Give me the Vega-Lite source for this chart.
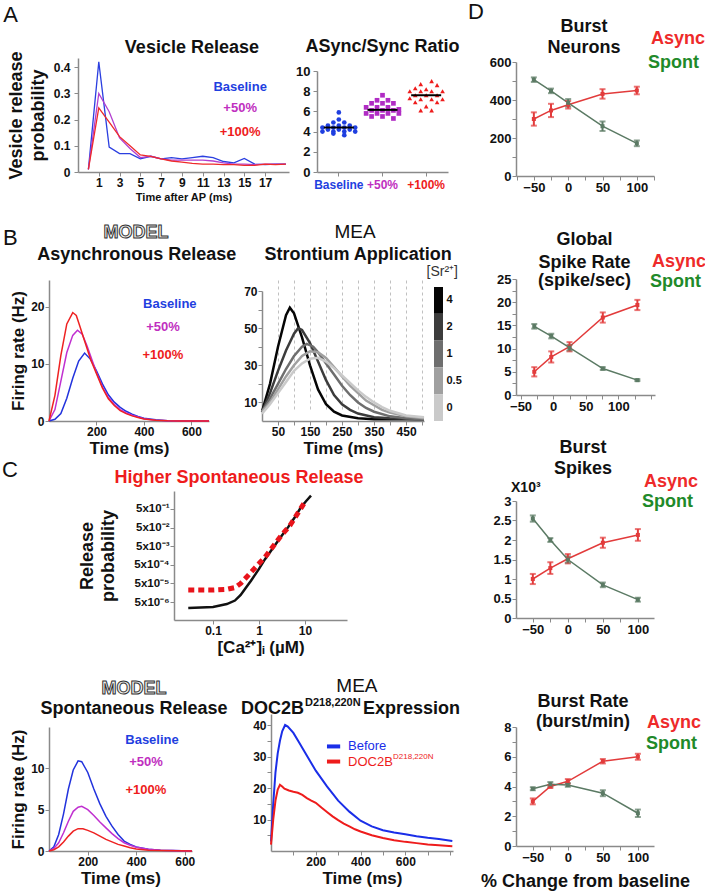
{
"$schema": "https://vega.github.io/schema/vega-lite/v6.json",
"autosize": {"type": "none"},
"padding": {"left": 49, "top": 58, "right": 656, "bottom": 836},
"background": "white",
"config": {
 "font": "Liberation Sans",
 "view": {"stroke": null},
 "axis": {"labelFontWeight": "bold", "labelFontSize": 12, "labelColor": "#111", "titleFontWeight": "bold", "titleFontSize": 17, "titleColor": "#111", "domainColor": "#8a8a8a", "tickColor": "#8a8a8a", "tickSize": 4, "domainWidth": 1.5, "grid": false, "labelPadding": 1, "titlePadding": 3, "labelFlush": false, "labelOverlap": false},
 "text": {"font": "Liberation Sans"}
},
"resolve": {"scale": {"color": "independent", "shape": "independent"}},
"datasets": {
 "a1": [
  {"t":0,"p":0.01,"s":"Baseline"},{"t":1,"p":0.42,"s":"Baseline"},{"t":2,"p":0.095,"s":"Baseline"},{"t":3,"p":0.07,"s":"Baseline"},{"t":4,"p":0.07,"s":"Baseline"},{"t":5,"p":0.05,"s":"Baseline"},{"t":6,"p":0.06,"s":"Baseline"},{"t":7,"p":0.05,"s":"Baseline"},{"t":8,"p":0.055,"s":"Baseline"},{"t":9,"p":0.05,"s":"Baseline"},{"t":10,"p":0.055,"s":"Baseline"},{"t":11,"p":0.06,"s":"Baseline"},{"t":12,"p":0.055,"s":"Baseline"},{"t":13,"p":0.04,"s":"Baseline"},{"t":14,"p":0.035,"s":"Baseline"},{"t":15,"p":0.052,"s":"Baseline"},{"t":16,"p":0.03,"s":"Baseline"},{"t":17,"p":0.028,"s":"Baseline"},{"t":18,"p":0.03,"s":"Baseline"},{"t":19,"p":0.03,"s":"Baseline"},
  {"t":0,"p":0.01,"s":"+50%"},{"t":1,"p":0.30,"s":"+50%"},{"t":2,"p":0.23,"s":"+50%"},{"t":3,"p":0.13,"s":"+50%"},{"t":4,"p":0.09,"s":"+50%"},{"t":5,"p":0.055,"s":"+50%"},{"t":6,"p":0.06,"s":"+50%"},{"t":7,"p":0.05,"s":"+50%"},{"t":8,"p":0.045,"s":"+50%"},{"t":9,"p":0.045,"s":"+50%"},{"t":10,"p":0.045,"s":"+50%"},{"t":11,"p":0.045,"s":"+50%"},{"t":12,"p":0.042,"s":"+50%"},{"t":13,"p":0.035,"s":"+50%"},{"t":14,"p":0.03,"s":"+50%"},{"t":15,"p":0.03,"s":"+50%"},{"t":16,"p":0.028,"s":"+50%"},{"t":17,"p":0.03,"s":"+50%"},{"t":18,"p":0.03,"s":"+50%"},{"t":19,"p":0.03,"s":"+50%"},
  {"t":0,"p":0.01,"s":"+100%"},{"t":1,"p":0.245,"s":"+100%"},{"t":2,"p":0.19,"s":"+100%"},{"t":3,"p":0.135,"s":"+100%"},{"t":4,"p":0.10,"s":"+100%"},{"t":5,"p":0.065,"s":"+100%"},{"t":6,"p":0.06,"s":"+100%"},{"t":7,"p":0.05,"s":"+100%"},{"t":8,"p":0.042,"s":"+100%"},{"t":9,"p":0.038,"s":"+100%"},{"t":10,"p":0.033,"s":"+100%"},{"t":11,"p":0.03,"s":"+100%"},{"t":12,"p":0.03,"s":"+100%"},{"t":13,"p":0.028,"s":"+100%"},{"t":14,"p":0.028,"s":"+100%"},{"t":15,"p":0.025,"s":"+100%"},{"t":16,"p":0.025,"s":"+100%"},{"t":17,"p":0.03,"s":"+100%"},{"t":18,"p":0.028,"s":"+100%"},{"t":19,"p":0.03,"s":"+100%"}
 ],
 "a2": [
  {"g":"Baseline","v":5.9,"k":0},{"g":"Baseline","v":5.2,"k":0},{"g":"Baseline","v":4.9,"k":-1},{"g":"Baseline","v":4.9,"k":1},{"g":"Baseline","v":4.6,"k":-2},{"g":"Baseline","v":4.6,"k":0},{"g":"Baseline","v":4.6,"k":2},{"g":"Baseline","v":4.4,"k":-3},{"g":"Baseline","v":4.4,"k":-1},{"g":"Baseline","v":4.4,"k":1},{"g":"Baseline","v":4.4,"k":3},{"g":"Baseline","v":4.2,"k":-2},{"g":"Baseline","v":4.2,"k":0},{"g":"Baseline","v":4.2,"k":2},{"g":"Baseline","v":4.0,"k":-3},{"g":"Baseline","v":4.0,"k":-1},{"g":"Baseline","v":4.0,"k":1},{"g":"Baseline","v":4.0,"k":3},{"g":"Baseline","v":3.8,"k":-1},{"g":"Baseline","v":3.65,"k":1},
  {"g":"+50%","v":7.6,"k":0},{"g":"+50%","v":7.1,"k":-1},{"g":"+50%","v":7.1,"k":1},{"g":"+50%","v":6.8,"k":-2},{"g":"+50%","v":6.8,"k":0},{"g":"+50%","v":6.8,"k":2},{"g":"+50%","v":6.4,"k":-3},{"g":"+50%","v":6.4,"k":-1},{"g":"+50%","v":6.4,"k":1},{"g":"+50%","v":6.2,"k":3},{"g":"+50%","v":6.1,"k":-2},{"g":"+50%","v":6.1,"k":0},{"g":"+50%","v":6.1,"k":2},{"g":"+50%","v":5.8,"k":-3},{"g":"+50%","v":5.8,"k":-1},{"g":"+50%","v":5.8,"k":1},{"g":"+50%","v":5.8,"k":3},{"g":"+50%","v":5.5,"k":-2},{"g":"+50%","v":5.5,"k":0},{"g":"+50%","v":5.3,"k":2},
  {"g":"+100%","v":9.0,"k":1},{"g":"+100%","v":8.7,"k":-1},{"g":"+100%","v":8.6,"k":2},{"g":"+100%","v":8.3,"k":-2},{"g":"+100%","v":8.2,"k":0},{"g":"+100%","v":8.0,"k":-3},{"g":"+100%","v":8.0,"k":-1},{"g":"+100%","v":8.0,"k":1},{"g":"+100%","v":8.0,"k":3},{"g":"+100%","v":7.6,"k":-2},{"g":"+100%","v":7.6,"k":0},{"g":"+100%","v":7.6,"k":2},{"g":"+100%","v":7.3,"k":-3},{"g":"+100%","v":7.2,"k":-1},{"g":"+100%","v":7.2,"k":1},{"g":"+100%","v":7.2,"k":3},{"g":"+100%","v":6.9,"k":-2},{"g":"+100%","v":6.9,"k":2},{"g":"+100%","v":6.5,"k":0},{"g":"+100%","v":6.1,"k":-1},{"g":"+100%","v":6.1,"k":1}
 ],
 "b1": [
  {"t":0,"v":0,"s":"Baseline"},{"t":25,"v":0.3,"s":"Baseline"},{"t":50,"v":1.3,"s":"Baseline"},{"t":75,"v":4,"s":"Baseline"},{"t":100,"v":7.5,"s":"Baseline"},{"t":125,"v":10.5,"s":"Baseline"},{"t":150,"v":11.9,"s":"Baseline"},{"t":175,"v":10.8,"s":"Baseline"},{"t":200,"v":8.8,"s":"Baseline"},{"t":225,"v":6.5,"s":"Baseline"},{"t":250,"v":4.6,"s":"Baseline"},{"t":275,"v":3.3,"s":"Baseline"},{"t":300,"v":2.4,"s":"Baseline"},{"t":325,"v":1.7,"s":"Baseline"},{"t":350,"v":1.2,"s":"Baseline"},{"t":375,"v":0.8,"s":"Baseline"},{"t":400,"v":0.5,"s":"Baseline"},{"t":450,"v":0.2,"s":"Baseline"},{"t":500,"v":0.05,"s":"Baseline"},{"t":550,"v":0,"s":"Baseline"},{"t":674,"v":0,"s":"Baseline"},
  {"t":0,"v":0,"s":"+50%"},{"t":25,"v":2,"s":"+50%"},{"t":50,"v":7,"s":"+50%"},{"t":75,"v":12,"s":"+50%"},{"t":100,"v":15,"s":"+50%"},{"t":120,"v":15.9,"s":"+50%"},{"t":140,"v":15.2,"s":"+50%"},{"t":160,"v":13.2,"s":"+50%"},{"t":180,"v":10.8,"s":"+50%"},{"t":200,"v":8.5,"s":"+50%"},{"t":225,"v":6,"s":"+50%"},{"t":250,"v":4.1,"s":"+50%"},{"t":275,"v":2.9,"s":"+50%"},{"t":300,"v":2.0,"s":"+50%"},{"t":325,"v":1.4,"s":"+50%"},{"t":350,"v":1.0,"s":"+50%"},{"t":375,"v":0.7,"s":"+50%"},{"t":400,"v":0.4,"s":"+50%"},{"t":450,"v":0.15,"s":"+50%"},{"t":500,"v":0.03,"s":"+50%"},{"t":550,"v":0,"s":"+50%"},{"t":674,"v":0,"s":"+50%"},
  {"t":0,"v":0,"s":"+100%"},{"t":25,"v":4.5,"s":"+100%"},{"t":50,"v":11.5,"s":"+100%"},{"t":75,"v":17,"s":"+100%"},{"t":100,"v":19,"s":"+100%"},{"t":115,"v":18.5,"s":"+100%"},{"t":130,"v":16.6,"s":"+100%"},{"t":150,"v":14,"s":"+100%"},{"t":175,"v":10.8,"s":"+100%"},{"t":200,"v":8.3,"s":"+100%"},{"t":225,"v":5.8,"s":"+100%"},{"t":250,"v":3.9,"s":"+100%"},{"t":275,"v":2.7,"s":"+100%"},{"t":300,"v":1.8,"s":"+100%"},{"t":325,"v":1.3,"s":"+100%"},{"t":350,"v":0.9,"s":"+100%"},{"t":375,"v":0.6,"s":"+100%"},{"t":400,"v":0.35,"s":"+100%"},{"t":450,"v":0.12,"s":"+100%"},{"t":500,"v":0.03,"s":"+100%"},{"t":550,"v":0,"s":"+100%"},{"t":674,"v":0,"s":"+100%"}
 ],
 "b2": [
  {"t":0,"v":5,"c":"4"},{"t":25,"v":20,"c":"4"},{"t":50,"v":40,"c":"4"},{"t":75,"v":57,"c":"4"},{"t":87,"v":61,"c":"4"},{"t":100,"v":58,"c":"4"},{"t":125,"v":45,"c":"4"},{"t":150,"v":30,"c":"4"},{"t":175,"v":17,"c":"4"},{"t":200,"v":9,"c":"4"},{"t":225,"v":5,"c":"4"},{"t":250,"v":3,"c":"4"},{"t":300,"v":1.5,"c":"4"},{"t":350,"v":1,"c":"4"},{"t":400,"v":1,"c":"4"},{"t":506,"v":1,"c":"4"},
  {"t":0,"v":5,"c":"2"},{"t":25,"v":15,"c":"2"},{"t":50,"v":27,"c":"2"},{"t":75,"v":38,"c":"2"},{"t":100,"v":47,"c":"2"},{"t":113,"v":50,"c":"2"},{"t":125,"v":49,"c":"2"},{"t":150,"v":42,"c":"2"},{"t":175,"v":32,"c":"2"},{"t":200,"v":22,"c":"2"},{"t":225,"v":14,"c":"2"},{"t":250,"v":9,"c":"2"},{"t":275,"v":6,"c":"2"},{"t":300,"v":4,"c":"2"},{"t":350,"v":2,"c":"2"},{"t":400,"v":1.5,"c":"2"},{"t":506,"v":1,"c":"2"},
  {"t":0,"v":5,"c":"1"},{"t":25,"v":12,"c":"1"},{"t":50,"v":20,"c":"1"},{"t":75,"v":28,"c":"1"},{"t":100,"v":35,"c":"1"},{"t":125,"v":40,"c":"1"},{"t":140,"v":41.5,"c":"1"},{"t":160,"v":40,"c":"1"},{"t":175,"v":37,"c":"1"},{"t":200,"v":31,"c":"1"},{"t":225,"v":25,"c":"1"},{"t":250,"v":19,"c":"1"},{"t":275,"v":14,"c":"1"},{"t":300,"v":10,"c":"1"},{"t":325,"v":7,"c":"1"},{"t":350,"v":5,"c":"1"},{"t":400,"v":2.5,"c":"1"},{"t":450,"v":1.5,"c":"1"},{"t":506,"v":1,"c":"1"},
  {"t":0,"v":5,"c":"0.5"},{"t":25,"v":10,"c":"0.5"},{"t":50,"v":17,"c":"0.5"},{"t":75,"v":24,"c":"0.5"},{"t":100,"v":30,"c":"0.5"},{"t":125,"v":35,"c":"0.5"},{"t":150,"v":37.5,"c":"0.5"},{"t":175,"v":37,"c":"0.5"},{"t":200,"v":34,"c":"0.5"},{"t":225,"v":29,"c":"0.5"},{"t":250,"v":24,"c":"0.5"},{"t":275,"v":19,"c":"0.5"},{"t":300,"v":15,"c":"0.5"},{"t":325,"v":11,"c":"0.5"},{"t":350,"v":8.5,"c":"0.5"},{"t":375,"v":6,"c":"0.5"},{"t":400,"v":4.5,"c":"0.5"},{"t":450,"v":2.5,"c":"0.5"},{"t":506,"v":1.5,"c":"0.5"},
  {"t":0,"v":4,"c":"0"},{"t":25,"v":9,"c":"0"},{"t":50,"v":15,"c":"0"},{"t":75,"v":21,"c":"0"},{"t":100,"v":27,"c":"0"},{"t":125,"v":31,"c":"0"},{"t":150,"v":33.5,"c":"0"},{"t":175,"v":34,"c":"0"},{"t":200,"v":32,"c":"0"},{"t":225,"v":28.5,"c":"0"},{"t":250,"v":24.5,"c":"0"},{"t":275,"v":20.5,"c":"0"},{"t":300,"v":16.5,"c":"0"},{"t":325,"v":13,"c":"0"},{"t":350,"v":10,"c":"0"},{"t":375,"v":7.5,"c":"0"},{"t":400,"v":5.5,"c":"0"},{"t":450,"v":3,"c":"0"},{"t":506,"v":2,"c":"0"}
 ],
 "cb": [{"c":"4"},{"c":"2"},{"c":"1"},{"c":"0.5"},{"c":"0"}],
 "ctn": [
  {"c":0.029,"p":2.4e-6},{"c":0.1,"p":2.7e-6},{"c":0.2,"p":3.9e-6},{"c":0.3,"p":6e-6},{"c":0.4,"p":1.2e-5},{"c":0.5,"p":2.6e-5},{"c":0.67,"p":7e-5},{"c":1.0,"p":3e-4},{"c":1.35,"p":1e-3},{"c":2.2,"p":5.5e-3},{"c":3.0,"p":1.6e-2},{"c":4.3,"p":5.3e-2},{"c":6,"p":0.18},{"c":8.1,"p":0.6},{"c":10.5,"p":1.3},{"c":13.5,"p":2.6}
 ],
 "cth": [
  {"c":0.029,"p":2.2e-5},{"c":0.1,"p":2.2e-5},{"c":0.2,"p":2.4e-5},{"c":0.3,"p":3e-5},{"c":0.4,"p":5e-5},{"c":0.52,"p":1e-4},{"c":0.8,"p":3.2e-4},{"c":1.35,"p":1.3e-3},{"c":2.2,"p":6.5e-3},{"c":3,"p":1.8e-2},{"c":4.7,"p":6.5e-2},{"c":7,"p":0.3},{"c":9.5,"p":1.0}
 ],
 "c1": [
  {"t":40,"v":0,"s":"Baseline"},{"t":60,"v":0.5,"s":"Baseline"},{"t":80,"v":2,"s":"Baseline"},{"t":100,"v":4.5,"s":"Baseline"},{"t":120,"v":7.5,"s":"Baseline"},{"t":140,"v":9.8,"s":"Baseline"},{"t":160,"v":10.9,"s":"Baseline"},{"t":175,"v":10.8,"s":"Baseline"},{"t":200,"v":9.5,"s":"Baseline"},{"t":225,"v":7.5,"s":"Baseline"},{"t":250,"v":5.7,"s":"Baseline"},{"t":275,"v":4.2,"s":"Baseline"},{"t":300,"v":3.0,"s":"Baseline"},{"t":325,"v":2.0,"s":"Baseline"},{"t":350,"v":1.2,"s":"Baseline"},{"t":375,"v":0.8,"s":"Baseline"},{"t":400,"v":0.5,"s":"Baseline"},{"t":450,"v":0.2,"s":"Baseline"},{"t":500,"v":0.1,"s":"Baseline"},{"t":550,"v":0.05,"s":"Baseline"},{"t":630,"v":0,"s":"Baseline"},
  {"t":40,"v":0,"s":"+50%"},{"t":60,"v":0.3,"s":"+50%"},{"t":80,"v":1,"s":"+50%"},{"t":100,"v":2.2,"s":"+50%"},{"t":120,"v":3.6,"s":"+50%"},{"t":140,"v":4.8,"s":"+50%"},{"t":160,"v":5.3,"s":"+50%"},{"t":175,"v":5.4,"s":"+50%"},{"t":200,"v":5,"s":"+50%"},{"t":225,"v":4.3,"s":"+50%"},{"t":250,"v":3.5,"s":"+50%"},{"t":275,"v":2.8,"s":"+50%"},{"t":300,"v":2.1,"s":"+50%"},{"t":325,"v":1.5,"s":"+50%"},{"t":350,"v":1,"s":"+50%"},{"t":375,"v":0.7,"s":"+50%"},{"t":400,"v":0.45,"s":"+50%"},{"t":450,"v":0.2,"s":"+50%"},{"t":500,"v":0.08,"s":"+50%"},{"t":630,"v":0,"s":"+50%"},
  {"t":40,"v":0,"s":"+100%"},{"t":60,"v":0.15,"s":"+100%"},{"t":80,"v":0.5,"s":"+100%"},{"t":100,"v":1.1,"s":"+100%"},{"t":120,"v":1.8,"s":"+100%"},{"t":140,"v":2.4,"s":"+100%"},{"t":160,"v":2.7,"s":"+100%"},{"t":180,"v":2.7,"s":"+100%"},{"t":200,"v":2.5,"s":"+100%"},{"t":225,"v":2.2,"s":"+100%"},{"t":250,"v":1.8,"s":"+100%"},{"t":275,"v":1.4,"s":"+100%"},{"t":300,"v":1.1,"s":"+100%"},{"t":325,"v":0.8,"s":"+100%"},{"t":350,"v":0.6,"s":"+100%"},{"t":375,"v":0.4,"s":"+100%"},{"t":400,"v":0.25,"s":"+100%"},{"t":450,"v":0.1,"s":"+100%"},{"t":500,"v":0.05,"s":"+100%"},{"t":630,"v":0,"s":"+100%"}
 ],
 "c2": [
  {"t":0,"v":3,"s":"Before"},{"t":10,"v":15,"s":"Before"},{"t":20,"v":25,"s":"Before"},{"t":30,"v":31,"s":"Before"},{"t":40,"v":35,"s":"Before"},{"t":50,"v":38,"s":"Before"},{"t":63,"v":40,"s":"Before"},{"t":75,"v":39.5,"s":"Before"},{"t":100,"v":37.5,"s":"Before"},{"t":125,"v":34.5,"s":"Before"},{"t":150,"v":31.5,"s":"Before"},{"t":175,"v":28.5,"s":"Before"},{"t":200,"v":25.5,"s":"Before"},{"t":250,"v":20.5,"s":"Before"},{"t":300,"v":16,"s":"Before"},{"t":350,"v":12.5,"s":"Before"},{"t":400,"v":9.6,"s":"Before"},{"t":450,"v":7.8,"s":"Before"},{"t":500,"v":6.6,"s":"Before"},{"t":550,"v":5.9,"s":"Before"},{"t":600,"v":5.3,"s":"Before"},{"t":650,"v":4.7,"s":"Before"},{"t":700,"v":4.2,"s":"Before"},{"t":750,"v":3.8,"s":"Before"},{"t":810,"v":3.2,"s":"Before"},
  {"t":0,"v":2,"s":"DOC2B"},{"t":10,"v":10,"s":"DOC2B"},{"t":20,"v":16,"s":"DOC2B"},{"t":30,"v":19.5,"s":"DOC2B"},{"t":40,"v":21,"s":"DOC2B"},{"t":50,"v":20.5,"s":"DOC2B"},{"t":60,"v":19.8,"s":"DOC2B"},{"t":80,"v":19.2,"s":"DOC2B"},{"t":100,"v":18.8,"s":"DOC2B"},{"t":120,"v":18.5,"s":"DOC2B"},{"t":140,"v":17.8,"s":"DOC2B"},{"t":160,"v":16.8,"s":"DOC2B"},{"t":180,"v":16,"s":"DOC2B"},{"t":200,"v":15.3,"s":"DOC2B"},{"t":225,"v":13.8,"s":"DOC2B"},{"t":250,"v":12.4,"s":"DOC2B"},{"t":275,"v":11,"s":"DOC2B"},{"t":300,"v":9.8,"s":"DOC2B"},{"t":325,"v":8.7,"s":"DOC2B"},{"t":350,"v":7.8,"s":"DOC2B"},{"t":375,"v":6.9,"s":"DOC2B"},{"t":400,"v":6.2,"s":"DOC2B"},{"t":450,"v":5,"s":"DOC2B"},{"t":500,"v":4.1,"s":"DOC2B"},{"t":550,"v":3.4,"s":"DOC2B"},{"t":600,"v":2.9,"s":"DOC2B"},{"t":650,"v":2.5,"s":"DOC2B"},{"t":700,"v":2.1,"s":"DOC2B"},{"t":750,"v":1.8,"s":"DOC2B"},{"t":810,"v":1.5,"s":"DOC2B"}
 ],
 "d1": [
  {"x":-50,"m":300,"e":35,"s":"Async"},{"x":-25,"m":345,"e":35,"s":"Async"},{"x":0,"m":375,"e":20,"s":"Async"},{"x":50,"m":432,"e":25,"s":"Async"},{"x":100,"m":450,"e":20,"s":"Async"},
  {"x":-50,"m":507,"e":12,"s":"Spont"},{"x":-25,"m":448,"e":12,"s":"Spont"},{"x":0,"m":385,"e":20,"s":"Spont"},{"x":50,"m":262,"e":25,"s":"Spont"},{"x":100,"m":172,"e":15,"s":"Spont"}
 ],
 "d2": [
  {"x":-29,"m":5.0,"e":1.0,"s":"Async"},{"x":-3,"m":8.2,"e":1.2,"s":"Async"},{"x":25,"m":10.4,"e":1.0,"s":"Async"},{"x":76,"m":16.7,"e":1.1,"s":"Async"},{"x":129,"m":19.4,"e":1.1,"s":"Async"},
  {"x":-29,"m":14.8,"e":0.5,"s":"Spont"},{"x":-3,"m":12.7,"e":0.5,"s":"Spont"},{"x":25,"m":10.2,"e":0.6,"s":"Spont"},{"x":76,"m":5.7,"e":0.3,"s":"Spont"},{"x":129,"m":3.2,"e":0.2,"s":"Spont"}
 ],
 "d3": [
  {"x":-50,"m":1.0,"e":0.13,"s":"Async"},{"x":-25,"m":1.28,"e":0.15,"s":"Async"},{"x":0,"m":1.52,"e":0.12,"s":"Async"},{"x":50,"m":1.93,"e":0.13,"s":"Async"},{"x":100,"m":2.13,"e":0.15,"s":"Async"},
  {"x":-50,"m":2.55,"e":0.08,"s":"Spont"},{"x":-25,"m":2.0,"e":0.05,"s":"Spont"},{"x":0,"m":1.5,"e":0.08,"s":"Spont"},{"x":50,"m":0.85,"e":0.06,"s":"Spont"},{"x":100,"m":0.47,"e":0.05,"s":"Spont"}
 ],
 "d4": [
  {"x":-50,"m":3.0,"e":0.2,"s":"Async"},{"x":-25,"m":4.0,"e":0.1,"s":"Async"},{"x":0,"m":4.35,"e":0.15,"s":"Async"},{"x":50,"m":5.7,"e":0.15,"s":"Async"},{"x":100,"m":6.0,"e":0.2,"s":"Async"},
  {"x":-50,"m":3.85,"e":0.1,"s":"Spont"},{"x":-25,"m":4.15,"e":0.15,"s":"Spont"},{"x":0,"m":4.1,"e":0.12,"s":"Spont"},{"x":50,"m":3.55,"e":0.2,"s":"Spont"},{"x":100,"m":2.2,"e":0.25,"s":"Spont"}
 ]
},
"hconcat": [
 {
  "resolve": {"scale": {"color": "independent", "shape": "independent"}},
  "vconcat": [
   {
    "resolve": {"scale": {"color": "independent", "shape": "independent"}},
    "hconcat": [
     {"width": 1, "height": 163, "data": {"values": [{}]}, "mark": {"type": "text", "text": ""}, "encoding": {}},
     {
      "width": 211, "height": 114,
      "layer": [
       {"data": {"name": "a1"}, "mark": {"type": "line", "strokeWidth": 1.3},
        "encoding": {
         "x": {"field": "t", "type": "quantitative", "scale": {"domain": [-1, 19.3], "nice": false, "zero": false}, "axis": {"values": [1,3,5,7,9,11,13,15,17], "tickCount": 50, "format": ".1~f", "title": "Time after AP (ms)", "titleFontSize": 11}},
         "y": {"field": "p", "type": "quantitative", "scale": {"domain": [0, 0.435], "nice": false}, "axis": {"values": [0,0.1,0.2,0.3,0.4], "tickCount": 50, "format": ".1~f", "title": ["Vesicle release", "probability"], "titleFontSize": 18, "titleLineHeight": 22, "titlePadding": 6, "labelPadding": 4}},
         "color": {"field": "s", "type": "nominal", "scale": {"domain": ["Baseline","+50%","+100%"], "range": ["#2b3fe0","#b23fd0","#ee2a2a"]}, "legend": null}
        }},
       {"data": {"values": [{}]}, "mark": {"type": "text", "text": "Vesicle Release", "fontSize": 18, "fontWeight": "bold", "color": "#111", "align": "center", "baseline": "alphabetic"}, "encoding": {"x": {"datum": 9.96, "type": "quantitative"}, "y": {"datum": 0.454, "type": "quantitative"}}},
       {"data": {"values": [{}]}, "mark": {"type": "text", "text": "Baseline", "fontSize": 13, "fontWeight": "bold", "color": "#1f3fe0", "align": "center", "baseline": "middle"}, "encoding": {"x": {"datum": 14.6, "type": "quantitative"}, "y": {"datum": 0.324, "type": "quantitative"}}},
       {"data": {"values": [{}]}, "mark": {"type": "text", "text": "+50%", "fontSize": 13, "fontWeight": "bold", "color": "#c02fc0", "align": "center", "baseline": "middle"}, "encoding": {"x": {"datum": 14.6, "type": "quantitative"}, "y": {"datum": 0.244, "type": "quantitative"}}},
       {"data": {"values": [{}]}, "mark": {"type": "text", "text": "+100%", "fontSize": 13, "fontWeight": "bold", "color": "#ee1c1c", "align": "center", "baseline": "middle"}, "encoding": {"x": {"datum": 14.6, "type": "quantitative"}, "y": {"datum": 0.153, "type": "quantitative"}}},
       {"data": {"values": [{}]}, "mark": {"type": "text", "text": "A", "fontSize": 22, "fontWeight": "normal", "color": "#111", "align": "left", "baseline": "alphabetic"}, "encoding": {"x": {"datum": -8.2, "type": "quantitative"}, "y": {"datum": 0.572, "type": "quantitative"}}}
      ]
     },
     {
      "width": 131, "height": 114,
      "layer": [
       {"data": {"name": "a2"}, "mark": {"type": "point", "filled": true, "size": 22, "opacity": 1},
        "encoding": {
         "x": {"field": "g", "type": "nominal", "scale": {"domain": ["Baseline","+50%","+100%"], "paddingInner": 0, "paddingOuter": 0}, "axis": {"title": null, "labelAngle": 0, "labelFontSize": 12, "labelPadding": 3, "labelColor": {"condition": [{"test": "datum.value == 'Baseline'", "value": "#1f3fe0"}, {"test": "datum.value == '+50%'", "value": "#c02fc0"}], "value": "#ee1c1c"}}},
         "xOffset": {"field": "k", "type": "ordinal", "scale": {"domain": [-3,-2,-1,0,1,2,3], "paddingOuter": 1}},
         "y": {"field": "v", "type": "quantitative", "scale": {"domain": [0, 10], "range": [114, 13], "nice": false}, "axis": {"values": [0,2,4,6,8,10], "tickCount": 50, "format": ".1~f", "title": null, "labelFontSize": 13, "labelPadding": 3}},
         "color": {"field": "g", "type": "nominal", "scale": {"domain": ["Baseline","+50%","+100%"], "range": ["#1f3fe0","#b02cc4","#ee1c1c"]}, "legend": null},
         "shape": {"field": "g", "type": "nominal", "scale": {"domain": ["Baseline","+50%","+100%"], "range": ["circle","square","triangle-up"]}, "legend": null}
        }},
       {"data": {"name": "a2"}, "mark": {"type": "tick", "color": "#000", "thickness": 2, "size": 30},
        "encoding": {"x": {"field": "g", "type": "nominal"}, "y": {"aggregate": "median", "field": "v", "type": "quantitative"}}},
       {"data": {"values": [{}]}, "mark": {"type": "text", "text": "ASync/Sync Ratio", "fontSize": 18, "fontWeight": "bold", "color": "#111", "align": "center", "baseline": "alphabetic"}, "encoding": {"x": {"datum": "+50%", "type": "nominal"}, "y": {"datum": 11.88, "type": "quantitative"}}}
      ]
     }
    ],
    "spacing": 28, "bounds": "flush"
   },
   {
    "resolve": {"scale": {"color": "independent", "shape": "independent"}},
    "hconcat": [
     {
      "width": 160, "height": 141,
      "layer": [
       {"data": {"name": "b1"}, "mark": {"type": "line", "strokeWidth": 1.5},
        "encoding": {
         "x": {"field": "t", "type": "quantitative", "scale": {"domain": [0, 674], "nice": false}, "axis": {"values": [200,400,600], "tickCount": 50, "format": ".1~f", "title": "Time (ms)"}},
         "y": {"field": "v", "type": "quantitative", "scale": {"domain": [0, 24.7], "nice": false}, "axis": {"values": [0,10,20], "tickCount": 50, "format": ".1~f", "title": "Firing rate (Hz)"}},
         "color": {"field": "s", "type": "nominal", "scale": {"domain": ["Baseline","+50%","+100%"], "range": ["#2233dd","#c030d0","#ee2222"]}, "legend": null}
        }},
       {"data": {"values": [{}]}, "mark": {"type": "text", "text": "MODEL", "fontSize": 18, "fontWeight": "bold", "fill": "#eeeeee", "stroke": "#333333", "strokeWidth": 1, "align": "center", "baseline": "alphabetic"}, "encoding": {"x": {"datum": 366, "type": "quantitative"}, "y": {"datum": 32.05, "type": "quantitative"}}},
       {"data": {"values": [{}]}, "mark": {"type": "text", "text": "Asynchronous Release", "fontSize": 18, "fontWeight": "bold", "color": "#111", "align": "center", "baseline": "alphabetic"}, "encoding": {"x": {"datum": 370, "type": "quantitative"}, "y": {"datum": 28.2, "type": "quantitative"}}},
       {"data": {"values": [{}]}, "mark": {"type": "text", "text": "Baseline", "fontSize": 13, "fontWeight": "bold", "color": "#1f3fe0", "align": "center", "baseline": "middle"}, "encoding": {"x": {"datum": 509, "type": "quantitative"}, "y": {"datum": 20.5, "type": "quantitative"}}},
       {"data": {"values": [{}]}, "mark": {"type": "text", "text": "+50%", "fontSize": 13, "fontWeight": "bold", "color": "#c02fc0", "align": "center", "baseline": "middle"}, "encoding": {"x": {"datum": 480, "type": "quantitative"}, "y": {"datum": 16.5, "type": "quantitative"}}},
       {"data": {"values": [{}]}, "mark": {"type": "text", "text": "+100%", "fontSize": 13, "fontWeight": "bold", "color": "#ee1c1c", "align": "center", "baseline": "middle"}, "encoding": {"x": {"datum": 480, "type": "quantitative"}, "y": {"datum": 11.6, "type": "quantitative"}}},
       {"data": {"values": [{}]}, "mark": {"type": "text", "text": "B", "fontSize": 22, "fontWeight": "normal", "color": "#111", "align": "left", "baseline": "alphabetic"}, "encoding": {"x": {"datum": -194, "type": "quantitative"}, "y": {"datum": 30.8, "type": "quantitative"}}}
      ]
     },
     {"width": 33, "height": 1, "data": {"values": [{}]}, "mark": {"type": "text", "text": ""}, "encoding": {}},
     {
      "width": 162, "height": 141,
      "layer": [
       {"data": {"name": "b2"}, "mark": {"type": "line", "strokeWidth": 2.5},
        "encoding": {
         "x": {"field": "t", "type": "quantitative", "scale": {"domain": [0, 506], "nice": false}, "axis": {"values": [50,100,150,200,250,300,350,400,450,500], "tickCount": 50, "format": ".1~f", "labelExpr": "datum.value % 100 == 50 ? datum.label : ''", "grid": true, "gridDash": [3,3], "gridColor": "#b0b0b0", "gridWidth": 0.8, "title": "Time (ms)"}},
         "y": {"field": "v", "type": "quantitative", "scale": {"domain": [0, 70], "range": [141, 11], "nice": false}, "axis": {"values": [10,20,30,40,50,60,70], "tickCount": 50, "format": ".1~f", "labelExpr": "datum.value % 20 == 10 ? datum.label : ''", "title": null}},
         "color": {"field": "c", "type": "nominal", "scale": {"domain": ["4","2","1","0.5","0"], "range": ["#050505","#3c3c3c","#6e6e6e","#a0a0a0","#cacaca"]}, "legend": null}
        }},
       {"data": {"values": [{}]}, "mark": {"type": "text", "text": "MEA", "fontSize": 19, "fontWeight": "normal", "color": "#111", "align": "center", "baseline": "alphabetic"}, "encoding": {"x": {"datum": 290.6, "type": "quantitative"}, "y": {"datum": 98.5, "type": "quantitative"}}},
       {"data": {"values": [{}]}, "mark": {"type": "text", "text": "Strontium Application", "fontSize": 18, "fontWeight": "bold", "color": "#111", "align": "center", "baseline": "alphabetic"}, "encoding": {"x": {"datum": 300, "type": "quantitative"}, "y": {"datum": 86.7, "type": "quantitative"}}}
      ]
     },
     {
      "width": 9, "height": 141,
      "data": {"name": "cb"},
      "mark": {"type": "rect"},
      "encoding": {
       "y": {"field": "c", "type": "nominal", "scale": {"domain": ["4","2","1","0.5","0"], "range": [7, 141], "paddingInner": 0, "paddingOuter": 0}, "axis": {"orient": "right", "title": null, "domain": false, "ticks": false, "tickSize": 0, "labelPadding": 3, "labelFontSize": 11}},
       "color": {"field": "c", "type": "nominal", "scale": {"domain": ["4","2","1","0.5","0"], "range": ["#050505","#3c3c3c","#6e6e6e","#a0a0a0","#cacaca"]}, "legend": null}
      },
      "title": {"text": "[Sr²⁺]", "anchor": "end", "frame": "group", "fontSize": 14, "fontWeight": "normal", "color": "#333", "baseline": "bottom", "offset": -13, "dx": 15}
     }
    ],
    "spacing": 10, "bounds": "flush"
   },
   {
    "resolve": {"scale": {"color": "independent", "shape": "independent"}},
    "hconcat": [
     {"width": 1, "height": 183, "data": {"values": [{}]}, "mark": {"type": "text", "text": ""}, "encoding": {}},
     {
      "width": 173, "height": 129,
      "layer": [
       {"data": {"name": "ctn"}, "mark": {"type": "line", "color": "#111", "strokeWidth": 2.5},
        "encoding": {
         "x": {"field": "c", "type": "quantitative", "scale": {"type": "log", "domain": [0.0142, 81.8], "nice": false}, "axis": {"values": [0.1,1,10], "tickCount": 50, "labelExpr": "datum.value < 0.5 ? '0.1' : datum.value < 5 ? '1' : '10'", "title": "[Ca²⁺]ᵢ (µM)"}},
         "y": {"field": "p", "type": "quantitative", "scale": {"type": "log", "domain": [5.4e-7, 4.64], "nice": false}, "axis": {"values": [5e-6,5e-5,5e-4,5e-3,5e-2,5e-1], "tickCount": 50, "labelExpr": "'5x10' + ['⁰','⁻¹','⁻²','⁻³','⁻⁴','⁻⁵','⁻⁶'][round(-log(datum.value/5)/LN10)]", "labelFontSize": 11.5, "title": ["Release", "probability"], "titleFontSize": 18, "titleLineHeight": 21, "titlePadding": 16}}
        }},
       {"data": {"name": "cth"}, "mark": {"type": "line", "color": "#e8141b", "strokeWidth": 5, "strokeDash": [6, 4]},
        "encoding": {"x": {"field": "c", "type": "quantitative"}, "y": {"field": "p", "type": "quantitative"}}},
       {"data": {"values": [{}]}, "mark": {"type": "text", "text": "Higher Spontaneous Release", "fontSize": 18, "fontWeight": "bold", "color": "#ee1c1c", "align": "center", "baseline": "alphabetic"}, "encoding": {"x": {"datum": 0.367, "type": "quantitative"}, "y": {"datum": 12.5, "type": "quantitative"}}},
       {"data": {"values": [{}]}, "mark": {"type": "text", "text": "C", "fontSize": 22, "fontWeight": "normal", "color": "#111", "align": "left", "baseline": "alphabetic"}, "encoding": {"x": {"datum": 2.59e-6, "type": "quantitative"}, "y": {"datum": 26.3, "type": "quantitative"}}}
      ]
     }
    ],
    "spacing": 124, "bounds": "flush"
   },
   {
    "resolve": {"scale": {"color": "independent", "shape": "independent"}},
    "hconcat": [
     {
      "width": 143, "height": 137,
      "layer": [
       {"data": {"name": "c1"}, "mark": {"type": "line", "strokeWidth": 1.5},
        "encoding": {
         "x": {"field": "t", "type": "quantitative", "scale": {"domain": [40, 630], "nice": false, "zero": false}, "axis": {"values": [200,400,600], "tickCount": 50, "format": ".1~f", "title": "Time (ms)"}},
         "y": {"field": "v", "type": "quantitative", "scale": {"domain": [0, 15], "range": [137, 13], "nice": false}, "axis": {"values": [0,5,10], "tickCount": 50, "format": ".1~f", "title": "Firing rate (Hz)"}},
         "color": {"field": "s", "type": "nominal", "scale": {"domain": ["Baseline","+50%","+100%"], "range": ["#2233dd","#c030d0","#ee2222"]}, "legend": null}
        }},
       {"data": {"values": [{}]}, "mark": {"type": "text", "text": "MODEL", "fontSize": 18, "fontWeight": "bold", "fill": "#eeeeee", "stroke": "#333333", "strokeWidth": 1, "align": "center", "baseline": "alphabetic"}, "encoding": {"x": {"datum": 390.7, "type": "quantitative"}, "y": {"datum": 19.0, "type": "quantitative"}}},
       {"data": {"values": [{}]}, "mark": {"type": "text", "text": "Spontaneous Release", "fontSize": 18, "fontWeight": "bold", "color": "#111", "align": "center", "baseline": "alphabetic"}, "encoding": {"x": {"datum": 390.7, "type": "quantitative"}, "y": {"datum": 16.57, "type": "quantitative"}}},
       {"data": {"values": [{}]}, "mark": {"type": "text", "text": "Baseline", "fontSize": 13, "fontWeight": "bold", "color": "#1f3fe0", "align": "center", "baseline": "middle"}, "encoding": {"x": {"datum": 465, "type": "quantitative"}, "y": {"datum": 13.4, "type": "quantitative"}}},
       {"data": {"values": [{}]}, "mark": {"type": "text", "text": "+50%", "fontSize": 13, "fontWeight": "bold", "color": "#c02fc0", "align": "center", "baseline": "middle"}, "encoding": {"x": {"datum": 440, "type": "quantitative"}, "y": {"datum": 10.8, "type": "quantitative"}}},
       {"data": {"values": [{}]}, "mark": {"type": "text", "text": "+100%", "fontSize": 13, "fontWeight": "bold", "color": "#ee1c1c", "align": "center", "baseline": "middle"}, "encoding": {"x": {"datum": 440, "type": "quantitative"}, "y": {"datum": 7.4, "type": "quantitative"}}}
      ]
     },
     {
      "width": 182, "height": 137,
      "layer": [
       {"data": {"name": "c2"}, "mark": {"type": "line", "strokeWidth": 2},
        "encoding": {
         "x": {"field": "t", "type": "quantitative", "scale": {"domain": [0, 813], "nice": false}, "axis": {"values": [100,200,300,400,500,600,700,800], "tickCount": 50, "format": ".1~f", "labelExpr": "datum.value == 200 || datum.value == 400 || datum.value == 600 ? datum.label : ''", "title": "Time (ms)"}},
         "y": {"field": "v", "type": "quantitative", "scale": {"domain": [0, 43.5], "nice": false}, "axis": {"values": [5,10,15,20,25,30,35,40], "tickCount": 50, "format": ".1~f", "labelExpr": "datum.value % 10 == 0 ? datum.label : ''", "title": null}},
         "color": {"field": "s", "type": "nominal", "scale": {"domain": ["Before","DOC2B"], "range": ["#1a2ee8","#ee1c1c"]}, "legend": null}
        }},
       {"data": {"values": [{}]}, "mark": {"type": "rule", "color": "#1a2ee8", "strokeWidth": 4}, "encoding": {"x": {"datum": 250, "type": "quantitative"}, "x2": {"datum": 309}, "y": {"datum": 33.2, "type": "quantitative"}}},
       {"data": {"values": [{}]}, "mark": {"type": "rule", "color": "#ee1c1c", "strokeWidth": 4}, "encoding": {"x": {"datum": 250, "type": "quantitative"}, "x2": {"datum": 309}, "y": {"datum": 28.4, "type": "quantitative"}}},
       {"data": {"values": [{}]}, "mark": {"type": "text", "text": "Before", "fontSize": 13, "fontWeight": "normal", "color": "#1a2ee8", "align": "left", "baseline": "middle"}, "encoding": {"x": {"datum": 344, "type": "quantitative"}, "y": {"datum": 33.2, "type": "quantitative"}}},
       {"data": {"values": [{}]}, "mark": {"type": "text", "text": "DOC2B", "fontSize": 13, "fontWeight": "normal", "color": "#ee1c1c", "align": "left", "baseline": "middle"}, "encoding": {"x": {"datum": 344, "type": "quantitative"}, "y": {"datum": 28.4, "type": "quantitative"}}},
       {"data": {"values": [{}]}, "mark": {"type": "text", "text": "D218,220N", "fontSize": 8, "fontWeight": "normal", "color": "#ee1c1c", "align": "left", "baseline": "middle"}, "encoding": {"x": {"datum": 545, "type": "quantitative"}, "y": {"datum": 29.7, "type": "quantitative"}}},
       {"data": {"values": [{}]}, "mark": {"type": "text", "text": "MEA", "fontSize": 19, "fontWeight": "normal", "color": "#111", "align": "center", "baseline": "alphabetic"}, "encoding": {"x": {"datum": 384, "type": "quantitative"}, "y": {"datum": 50.5, "type": "quantitative"}}},
       {"data": {"values": [{}]}, "mark": {"type": "text", "text": "DOC2B", "fontSize": 18, "fontWeight": "bold", "color": "#111", "align": "left", "baseline": "alphabetic"}, "encoding": {"x": {"datum": -134, "type": "quantitative"}, "y": {"datum": 43.5, "type": "quantitative"}}},
       {"data": {"values": [{}]}, "mark": {"type": "text", "text": "D218,220N", "fontSize": 11, "fontWeight": "bold", "color": "#111", "align": "left", "baseline": "alphabetic"}, "encoding": {"x": {"datum": 152, "type": "quantitative"}, "y": {"datum": 46.1, "type": "quantitative"}}},
       {"data": {"values": [{}]}, "mark": {"type": "text", "text": "Expression", "fontSize": 18, "fontWeight": "bold", "color": "#111", "align": "left", "baseline": "alphabetic"}, "encoding": {"x": {"datum": 411, "type": "quantitative"}, "y": {"datum": 43.5, "type": "quantitative"}}}
      ]
     }
    ],
    "spacing": 79, "bounds": "flush"
   }
  ],
  "spacing": 2, "bounds": "full"
 },
 {
  "resolve": {"scale": {"color": "independent", "shape": "independent"}},
  "vconcat": [
   {
    "width": 138, "height": 118,
    "layer": [
     {"data": {"name": "d1"}, "mark": {"type": "line", "strokeWidth": 1.5},
      "encoding": {
       "x": {"field": "x", "type": "quantitative", "scale": {"domain": [-76, 125], "nice": false, "zero": false}, "axis": {"values": [-75,-50,-25,0,25,50,75,100,125], "tickCount": 50, "format": ".1~f", "labelExpr": "datum.value % 50 == 0 ? datum.label : ''", "title": null, "labelFontSize": 13}},
       "y": {"field": "m", "type": "quantitative", "scale": {"domain": [0, 600], "range": [118, 4], "nice": false}, "axis": {"values": [0,100,200,300,400,500,600], "tickCount": 50, "format": ".1~f", "labelExpr": "datum.value % 200 == 0 ? datum.label : ''", "title": null, "labelFontSize": 13}},
       "color": {"field": "s", "type": "nominal", "scale": {"domain": ["Async","Spont"], "range": ["#e23b3b","#5b7a64"]}, "legend": null}
      }},
     {"data": {"name": "d1"}, "mark": {"type": "errorbar", "ticks": true, "size": 6, "thickness": 2}, "encoding": {"x": {"field": "x", "type": "quantitative"}, "y": {"field": "m", "type": "quantitative"}, "yError": {"field": "e"}, "color": {"field": "s", "type": "nominal", "legend": null}}},
     {"data": {"name": "d1"}, "mark": {"type": "square", "size": 16, "opacity": 1}, "encoding": {"x": {"field": "x", "type": "quantitative"}, "y": {"field": "m", "type": "quantitative"}, "color": {"field": "s", "type": "nominal", "legend": null}}},
     {"data": {"values": [{}]}, "mark": {"type": "text", "text": "Burst", "fontSize": 18, "fontWeight": "bold", "color": "#111", "align": "center", "baseline": "alphabetic"}, "encoding": {"x": {"datum": 23, "type": "quantitative"}, "y": {"datum": 758, "type": "quantitative"}}},
     {"data": {"values": [{}]}, "mark": {"type": "text", "text": "Neurons", "fontSize": 18, "fontWeight": "bold", "color": "#111", "align": "center", "baseline": "alphabetic"}, "encoding": {"x": {"datum": 23, "type": "quantitative"}, "y": {"datum": 647, "type": "quantitative"}}},
     {"data": {"values": [{}]}, "mark": {"type": "text", "text": "Async", "fontSize": 18, "fontWeight": "bold", "color": "#ee2a2a", "align": "left", "baseline": "alphabetic"}, "encoding": {"x": {"datum": 120.6, "type": "quantitative"}, "y": {"datum": 695, "type": "quantitative"}}},
     {"data": {"values": [{}]}, "mark": {"type": "text", "text": "Spont", "fontSize": 18, "fontWeight": "bold", "color": "#1f8a2a", "align": "left", "baseline": "alphabetic"}, "encoding": {"x": {"datum": 116.3, "type": "quantitative"}, "y": {"datum": 568, "type": "quantitative"}}},
     {"data": {"values": [{}]}, "mark": {"type": "text", "text": "D", "fontSize": 22, "fontWeight": "normal", "color": "#111", "align": "left", "baseline": "alphabetic"}, "encoding": {"x": {"datum": -145.9, "type": "quantitative"}, "y": {"datum": 826, "type": "quantitative"}}}
    ]
   },
   {
    "width": 139, "height": 116,
    "layer": [
     {"data": {"name": "d2"}, "mark": {"type": "line", "strokeWidth": 1.5},
      "encoding": {
       "x": {"field": "x", "type": "quantitative", "scale": {"domain": [-57, 156], "nice": false, "zero": false}, "axis": {"values": [-50,-25,0,25,50,75,100,125,150], "tickCount": 50, "format": ".1~f", "labelExpr": "datum.value % 50 == 0 && datum.value <= 100 ? datum.label : ''", "title": null, "labelFontSize": 13}},
       "y": {"field": "m", "type": "quantitative", "scale": {"domain": [0, 25], "nice": false}, "axis": {"values": [0,2.5,5,7.5,10,12.5,15,17.5,20,22.5,25], "tickCount": 50, "format": ".1~f", "labelExpr": "datum.value % 5 == 0 ? datum.label : ''", "title": null, "labelFontSize": 13}},
       "color": {"field": "s", "type": "nominal", "scale": {"domain": ["Async","Spont"], "range": ["#e23b3b","#5b7a64"]}, "legend": null}
      }},
     {"data": {"name": "d2"}, "mark": {"type": "errorbar", "ticks": true, "size": 6, "thickness": 2}, "encoding": {"x": {"field": "x", "type": "quantitative"}, "y": {"field": "m", "type": "quantitative"}, "yError": {"field": "e"}, "color": {"field": "s", "type": "nominal", "legend": null}}},
     {"data": {"name": "d2"}, "mark": {"type": "square", "size": 16, "opacity": 1}, "encoding": {"x": {"field": "x", "type": "quantitative"}, "y": {"field": "m", "type": "quantitative"}, "color": {"field": "s", "type": "nominal", "legend": null}}},
     {"data": {"values": [{}]}, "mark": {"type": "text", "text": "Global", "fontSize": 18, "fontWeight": "bold", "color": "#111", "align": "center", "baseline": "alphabetic"}, "encoding": {"x": {"datum": 48, "type": "quantitative"}, "y": {"datum": 32.3, "type": "quantitative"}}},
     {"data": {"values": [{}]}, "mark": {"type": "text", "text": "Spike Rate", "fontSize": 18, "fontWeight": "bold", "color": "#111", "align": "center", "baseline": "alphabetic"}, "encoding": {"x": {"datum": 48, "type": "quantitative"}, "y": {"datum": 27.4, "type": "quantitative"}}},
     {"data": {"values": [{}]}, "mark": {"type": "text", "text": "(spike/sec)", "fontSize": 18, "fontWeight": "bold", "color": "#111", "align": "center", "baseline": "alphabetic"}, "encoding": {"x": {"datum": 48, "type": "quantitative"}, "y": {"datum": 23.5, "type": "quantitative"}}},
     {"data": {"values": [{}]}, "mark": {"type": "text", "text": "Async", "fontSize": 18, "fontWeight": "bold", "color": "#ee2a2a", "align": "left", "baseline": "alphabetic"}, "encoding": {"x": {"datum": 151.4, "type": "quantitative"}, "y": {"datum": 27.6, "type": "quantitative"}}},
     {"data": {"values": [{}]}, "mark": {"type": "text", "text": "Spont", "fontSize": 18, "fontWeight": "bold", "color": "#1f8a2a", "align": "left", "baseline": "alphabetic"}, "encoding": {"x": {"datum": 148.3, "type": "quantitative"}, "y": {"datum": 23.3, "type": "quantitative"}}}
    ]
   },
   {
    "width": 138, "height": 120,
    "layer": [
     {"data": {"name": "d3"}, "mark": {"type": "line", "strokeWidth": 1.5},
      "encoding": {
       "x": {"field": "x", "type": "quantitative", "scale": {"domain": [-74, 123], "nice": false, "zero": false}, "axis": {"values": [-50,-25,0,25,50,75,100], "tickCount": 50, "format": ".1~f", "labelExpr": "datum.value % 50 == 0 ? datum.label : ''", "title": null, "labelFontSize": 13}},
       "y": {"field": "m", "type": "quantitative", "scale": {"domain": [0, 3], "range": [120, 3], "nice": false}, "axis": {"values": [0,0.5,1,1.5,2,2.5,3], "tickCount": 50, "format": ".1~f", "title": null, "labelFontSize": 13}},
       "color": {"field": "s", "type": "nominal", "scale": {"domain": ["Async","Spont"], "range": ["#e23b3b","#5b7a64"]}, "legend": null}
      }},
     {"data": {"name": "d3"}, "mark": {"type": "errorbar", "ticks": true, "size": 6, "thickness": 2}, "encoding": {"x": {"field": "x", "type": "quantitative"}, "y": {"field": "m", "type": "quantitative"}, "yError": {"field": "e"}, "color": {"field": "s", "type": "nominal", "legend": null}}},
     {"data": {"name": "d3"}, "mark": {"type": "square", "size": 16, "opacity": 1}, "encoding": {"x": {"field": "x", "type": "quantitative"}, "y": {"field": "m", "type": "quantitative"}, "color": {"field": "s", "type": "nominal", "legend": null}}},
     {"data": {"values": [{}]}, "mark": {"type": "text", "text": "Burst", "fontSize": 18, "fontWeight": "bold", "color": "#111", "align": "center", "baseline": "alphabetic"}, "encoding": {"x": {"datum": 21.6, "type": "quantitative"}, "y": {"datum": 4.24, "type": "quantitative"}}},
     {"data": {"values": [{}]}, "mark": {"type": "text", "text": "Spikes", "fontSize": 18, "fontWeight": "bold", "color": "#111", "align": "center", "baseline": "alphabetic"}, "encoding": {"x": {"datum": 21.6, "type": "quantitative"}, "y": {"datum": 3.7, "type": "quantitative"}}},
     {"data": {"values": [{}]}, "mark": {"type": "text", "text": "Async", "fontSize": 18, "fontWeight": "bold", "color": "#ee2a2a", "align": "left", "baseline": "alphabetic"}, "encoding": {"x": {"datum": 108.7, "type": "quantitative"}, "y": {"datum": 3.36, "type": "quantitative"}}},
     {"data": {"values": [{}]}, "mark": {"type": "text", "text": "Spont", "fontSize": 18, "fontWeight": "bold", "color": "#1f8a2a", "align": "left", "baseline": "alphabetic"}, "encoding": {"x": {"datum": 105.9, "type": "quantitative"}, "y": {"datum": 2.85, "type": "quantitative"}}},
     {"data": {"values": [{}]}, "mark": {"type": "text", "text": "X10³", "fontSize": 14, "fontWeight": "bold", "color": "#111", "align": "left", "baseline": "alphabetic"}, "encoding": {"x": {"datum": -81.1, "type": "quantitative"}, "y": {"datum": 3.23, "type": "quantitative"}}}
    ]
   },
   {
    "width": 138, "height": 125,
    "layer": [
     {"data": {"name": "d4"}, "mark": {"type": "line", "strokeWidth": 1.5},
      "encoding": {
       "x": {"field": "x", "type": "quantitative", "scale": {"domain": [-74, 123], "nice": false, "zero": false}, "axis": {"values": [-50,-25,0,25,50,75,100], "tickCount": 50, "format": ".1~f", "labelExpr": "datum.value % 50 == 0 ? datum.label : ''", "title": "% Change from baseline", "titleFontSize": 18, "titlePadding": 8, "labelFontSize": 13}},
       "y": {"field": "m", "type": "quantitative", "scale": {"domain": [0, 8], "range": [125, 6], "nice": false}, "axis": {"values": [0,1,2,3,4,5,6,7,8], "tickCount": 50, "format": ".1~f", "labelExpr": "datum.value % 2 == 0 ? datum.label : ''", "title": null, "labelFontSize": 13}},
       "color": {"field": "s", "type": "nominal", "scale": {"domain": ["Async","Spont"], "range": ["#e23b3b","#5b7a64"]}, "legend": null}
      }},
     {"data": {"name": "d4"}, "mark": {"type": "errorbar", "ticks": true, "size": 6, "thickness": 2}, "encoding": {"x": {"field": "x", "type": "quantitative"}, "y": {"field": "m", "type": "quantitative"}, "yError": {"field": "e"}, "color": {"field": "s", "type": "nominal", "legend": null}}},
     {"data": {"name": "d4"}, "mark": {"type": "square", "size": 16, "opacity": 1}, "encoding": {"x": {"field": "x", "type": "quantitative"}, "y": {"field": "m", "type": "quantitative"}, "color": {"field": "s", "type": "nominal", "legend": null}}},
     {"data": {"values": [{}]}, "mark": {"type": "text", "text": "Burst Rate", "fontSize": 18, "fontWeight": "bold", "color": "#111", "align": "center", "baseline": "alphabetic"}, "encoding": {"x": {"datum": 21.6, "type": "quantitative"}, "y": {"datum": 9.34, "type": "quantitative"}}},
     {"data": {"values": [{}]}, "mark": {"type": "text", "text": "(burst/min)", "fontSize": 18, "fontWeight": "bold", "color": "#111", "align": "center", "baseline": "alphabetic"}, "encoding": {"x": {"datum": 21.6, "type": "quantitative"}, "y": {"datum": 8.0, "type": "quantitative"}}},
     {"data": {"values": [{}]}, "mark": {"type": "text", "text": "Async", "fontSize": 18, "fontWeight": "bold", "color": "#ee2a2a", "align": "left", "baseline": "alphabetic"}, "encoding": {"x": {"datum": 113, "type": "quantitative"}, "y": {"datum": 7.93, "type": "quantitative"}}},
     {"data": {"values": [{}]}, "mark": {"type": "text", "text": "Spont", "fontSize": 18, "fontWeight": "bold", "color": "#1f8a2a", "align": "left", "baseline": "alphabetic"}, "encoding": {"x": {"datum": 111.6, "type": "quantitative"}, "y": {"datum": 6.52, "type": "quantitative"}}}
    ]
   }
  ],
  "spacing": 103, "bounds": "flush"
 }
],
"spacing": 6,
"bounds": "full"
}
